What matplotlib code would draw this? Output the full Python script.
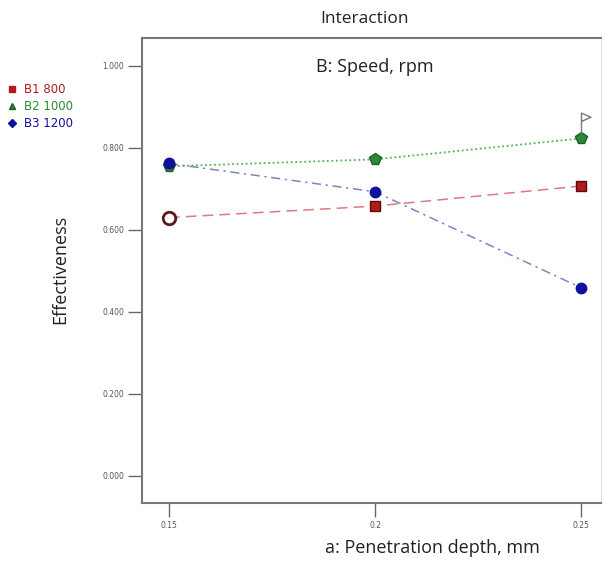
import matplotlib.pyplot as plt
from matplotlib.lines import Line2D
from matplotlib.path import Path

# Дані
depth = [0.15, 0.2, 0.25]
b1_800 = [0.630, 0.658, 0.707]
b2_1000 = [0.755, 0.772, 0.823]
b3_1200 = [0.762, 0.693, 0.459]
series_names = ['B1 800', 'B2 1000', 'B3 1200']
y_ticks = [0.0, 0.2, 0.4, 0.6, 0.8, 1.0]
x_ticks = [0.15, 0.2, 0.25]
x_tick_labels = ['0.15', '0.2', '0.25']
flag_point = (0.25, 0.86)

red, green, blue = '#b01c1c', '#2a8a35', '#10109a'

fig = plt.figure(figsize=(6.05, 5.62), dpi=100)
ax = fig.add_axes([0.2347, 0.105, 0.7587, 0.8274])

# Лінії взаємодії
ax.plot(depth, b1_800, color='#e07a7a', linestyle=(0, (7, 4)), linewidth=1.1, zorder=2)
ax.plot(depth, b2_1000, color='#55b055', linestyle=(0, (1, 1.5)), linewidth=1.3, zorder=2)
ax.plot(depth, b3_1200, color='#7a86c4', linestyle=(0, (6, 3, 1.5, 3)), linewidth=1.1, zorder=2)

# Маркери
ax.plot(depth[1:], b1_800[1:], 's', color=red, markeredgecolor='#5a0c0c', markersize=7.5, zorder=3)
ax.plot(depth[:1], b1_800[:1], 'o', markerfacecolor='white', markeredgecolor='#5a1a1a',
        markeredgewidth=2, markersize=9, zorder=3)
ax.plot(depth, b2_1000, 'p', color=green, markeredgecolor='#1d5e22', markersize=8.5, zorder=3)
ax.plot(depth, b3_1200, 'o', color=blue, markersize=7.5, zorder=4)

# Прапорець над точкою
flag = Path([(0, -1), (0, 1), (0.9, 0.6), (0, 0.2)],
            [Path.MOVETO, Path.LINETO, Path.LINETO, Path.LINETO])
ax.plot([flag_point[0]], [flag_point[1]], marker=flag, markersize=15,
        markerfacecolor='white', markeredgecolor='#777777', markeredgewidth=1, zorder=5)

ax.set_xlim(0.14345, 0.25485)
ax.set_ylim(-0.066, 1.068)
ax.set_xticks(x_ticks)
ax.set_xticklabels(x_tick_labels)
ax.set_yticks(y_ticks)
ax.set_yticklabels(['%.3f' % v for v in y_ticks])
ax.tick_params(axis='both', labelsize=5.5, labelcolor='#555555', color='#666666',
               length=10, width=1, direction='out', pad=3)
ax.tick_params(axis='x', pad=3)

for side in ['left', 'bottom', 'top']:
    ax.spines[side].set_color('#777777')
    ax.spines[side].set_linewidth(1.5)
ax.spines['right'].set_color('#dddddd')

ax.text(0.2, 0.997, 'B: Speed, rpm', ha='center', va='center',
        fontsize=13, family='Open Sans', color='#222222')

fig.text(0.603, 0.967, 'Interaction', ha='center', va='center',
         fontsize=12.5, family='Open Sans', color='#222222')
fig.text(0.714, 0.025, 'a: Penetration depth, mm', ha='center', va='center',
         fontsize=13, family='Open Sans', color='#222222')
fig.text(0.099, 0.52, 'Effectiveness', ha='center', va='center', rotation=90,
         fontsize=13, family='Open Sans', color='#222222')

# Легенда
handles = [
    Line2D([], [], marker='s', color=red, linestyle='none', markersize=5),
    Line2D([], [], marker='^', color=green, markeredgecolor='#1d5e22', linestyle='none', markersize=5),
    Line2D([], [], marker='D', color=blue, linestyle='none', markersize=4),
]
leg = fig.legend(handles, series_names, loc='upper left', bbox_to_anchor=(0.0, 0.865),
                 frameon=False, fontsize=8.5, handlelength=0.8, handletextpad=0.6,
                 labelspacing=0.35, borderaxespad=0.2)
for txt, c in zip(leg.get_texts(), [red, green, blue]):
    txt.set_color(c)

fig.savefig('out.png', dpi=100)
